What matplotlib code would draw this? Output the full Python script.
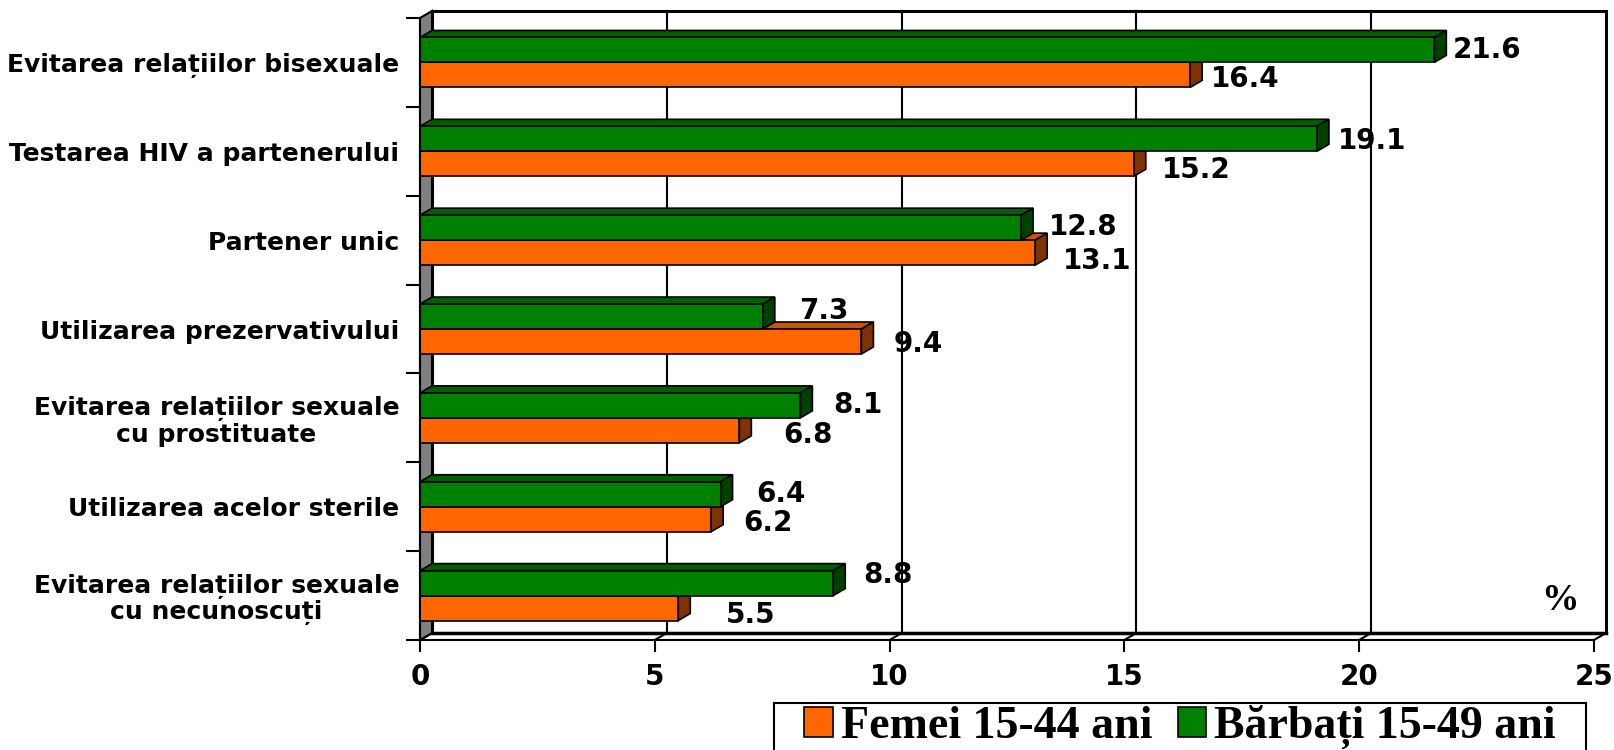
import numpy as np
import matplotlib
matplotlib.use("Agg")
import matplotlib.pyplot as plt
from matplotlib.patches import Polygon, Rectangle, Patch
from matplotlib.lines import Line2D

# ---- data -------------------------------------------------------------
categories = [
    "Evitarea relațiilor bisexuale",
    "Testarea HIV a partenerului",
    "Partener unic",
    "Utilizarea prezervativului",
    "Evitarea relațiilor sexuale\ncu prostituate",
    "Utilizarea acelor sterile",
    "Evitarea relațiilor sexuale\ncu necunoscuți",
]
barbati = [21.6, 19.1, 12.8, 7.3, 8.1, 6.4, 8.8]   # Bărbați 15-49 ani
femei = [16.4, 15.2, 13.1, 9.4, 6.8, 6.2, 5.5]     # Femei 15-44 ani
xticks = [0, 5, 10, 15, 20, 25]
series_names = ["Femei 15-44 ani", "Bărbați 15-49 ani"]

# label nudges in pixels (gap to the right of the bar, vertical shift down)
gap_barbati = [18, 21, 28, 36, 33, 36, 30]
gap_femei = [21, 28, 28, 32, 44, 32, 48]
dy_barbati = [0, 2, -1, -6, 0, 0, -8]
dy_femei = [4, 6, 8, 3, 5, 4, 7]

# ---- style ------------------------------------------------------------
ORANGE, ORANGE_TOP, ORANGE_SIDE = "#FF6600", "#CC5200", "#803300"
GREEN, GREEN_TOP, GREEN_SIDE = "#008000", "#006000", "#004000"
DEPTH_PX = (12, 7)          # 3-D depth of the plot box, in pixels
BAR_H = 0.281

W, H = 1614, 750
fig = plt.figure(figsize=(W / 100, H / 100), dpi=100)
ax = fig.add_axes([420 / W, (H - 640) / H, 1174 / W, 622 / H])
n = len(categories)
ax.set_xlim(0, 25)
ax.set_ylim(n - 0.5, -0.5)
ax.patch.set_visible(False)

# depth offset expressed in data units
inv = ax.transData.inverted()
p0 = ax.transData.transform((0, 0))
q0 = inv.transform(p0)
q1 = inv.transform(p0 + np.array(DEPTH_PX, dtype=float))
dxd, dyd = q1[0] - q0[0], q1[1] - q0[1]

xmax = 25
ytop, ybot = -0.5, n - 0.5
lw = 1.5

# back wall
ax.add_patch(Rectangle((dxd, ytop + dyd), xmax, ybot - ytop, facecolor="white",
                       edgecolor="black", lw=2.2, clip_on=False, zorder=0))
# vertical gridlines on back wall + floor
for t in xticks[1:-1]:
    ax.add_line(Line2D([t + dxd, t + dxd], [ybot + dyd, ytop + dyd], color="black",
                       lw=lw, clip_on=False, zorder=1))
for t in xticks:
    ax.add_line(Line2D([t, t + dxd], [ybot, ybot + dyd], color="black",
                       lw=lw, clip_on=False, zorder=1))
ax.add_line(Line2D([dxd, xmax + dxd], [ybot + dyd, ybot + dyd], color="black",
                   lw=2.5, clip_on=False, zorder=1))
# left side wall
ax.add_patch(Polygon([(0, ytop), (dxd, ytop + dyd), (dxd, ybot + dyd), (0, ybot)],
                     closed=True, facecolor="#808080", edgecolor="black", lw=lw,
                     clip_on=False, zorder=2))


def bar3d(y0, value, front, top, side):
    y1 = y0 + BAR_H
    ax.add_patch(Polygon([(0, y0), (dxd, y0 + dyd), (value + dxd, y0 + dyd), (value, y0)],
                         closed=True, facecolor=top, edgecolor="black", lw=1.2,
                         clip_on=False, zorder=3))
    ax.add_patch(Polygon([(value, y0), (value + dxd, y0 + dyd), (value + dxd, y1 + dyd), (value, y1)],
                         closed=True, facecolor=side, edgecolor="black", lw=1.2,
                         clip_on=False, zorder=3))
    ax.barh(y0 + BAR_H / 2, value, height=BAR_H, color=front, edgecolor="black",
            lw=1.2, zorder=4, clip_on=False)


for i in range(n):
    # lower bar (women) first, then upper bar (men) covering its hidden faces
    bar3d(i, femei[i], ORANGE, ORANGE_TOP, ORANGE_SIDE)
    bar3d(i - BAR_H, barbati[i], GREEN, GREEN_TOP, GREEN_SIDE)

label_font = dict(family="DejaVu Sans", weight="bold", size=20)
for i in range(n):
    ax.annotate(f"{barbati[i]:.1f}", (barbati[i], i - BAR_H / 2),
                xytext=(gap_barbati[i], -dy_barbati[i]), textcoords="offset pixels",
                ha="left", va="center", zorder=6, annotation_clip=False, **label_font)
    ax.annotate(f"{femei[i]:.1f}", (femei[i], i + BAR_H / 2),
                xytext=(gap_femei[i], -dy_femei[i]), textcoords="offset pixels",
                ha="left", va="center", zorder=6, annotation_clip=False, **label_font)

# axes, ticks
for s in ("top", "right"):
    ax.spines[s].set_visible(False)
ax.spines["left"].set_linewidth(lw)
ax.spines["bottom"].set_linewidth(lw)
ax.spines["left"].set_zorder(5)
ax.spines["bottom"].set_zorder(5)

ax.set_xticks(xticks)
ax.set_xticklabels([str(t) for t in xticks], family="DejaVu Sans", weight="bold", size=20)
ax.tick_params(axis="x", length=8.6, width=lw, pad=8)

ax.set_yticks(range(n))
ax.set_yticklabels(categories, family="DejaVu Sans", weight="bold", size=18)
ax.tick_params(axis="y", which="major", length=0, pad=15)
for t in ax.get_yticklabels():
    t.set_multialignment("center")
    t.set_linespacing(1.1)
ax.set_yticks(np.arange(-0.5, n, 1), minor=True)
ax.tick_params(axis="y", which="minor", length=10, width=lw)

# unit sign
ax.text(24.28, 6.05, "%", family="Liberation Serif", weight="bold", size=27,
        ha="center", va="center", zorder=6)

# legend: entries without frame, framed by a box running off the lower edge
handles = [Patch(facecolor=ORANGE, edgecolor="black", lw=1.2),
           Patch(facecolor=GREEN, edgecolor="black", lw=1.2)]
leg = fig.legend(handles, series_names, loc="upper center", ncol=2,
                 bbox_to_anchor=(1180 / W, 1 - 705 / H), borderaxespad=0,
                 prop=dict(family="Liberation Serif", weight="bold", size=33),
                 handlelength=0.62, handleheight=0.62, handletextpad=0.18,
                 columnspacing=0.55, borderpad=0.0, frameon=False)
fig.add_artist(Rectangle((774 / W, -0.02), (1586 - 774) / W, 0.02 + (750 - 703) / H,
                         transform=fig.transFigure, facecolor="none",
                         edgecolor="black", lw=1.5, clip_on=False))

fig.savefig("out.png", dpi=100)
